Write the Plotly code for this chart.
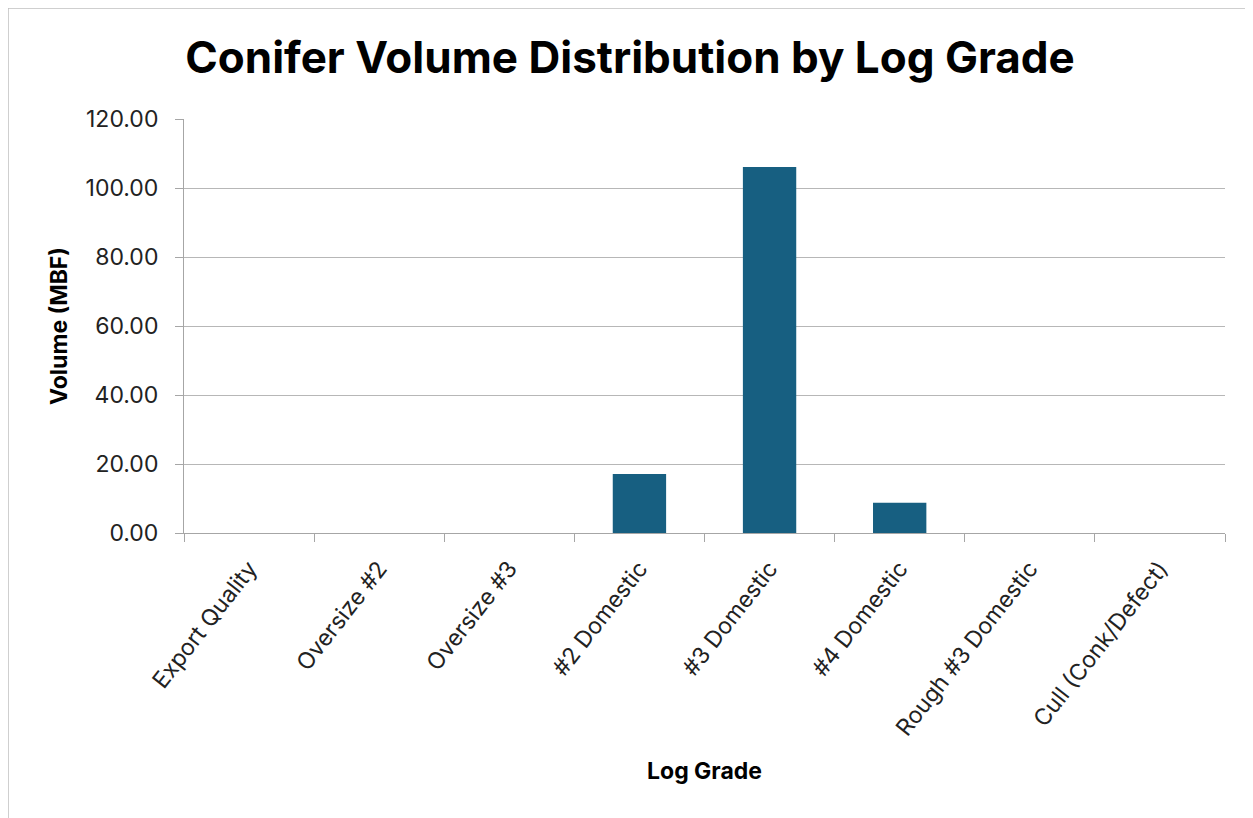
import plotly.graph_objects as go

categories = ["Export Quality", "Oversize #2", "Oversize #3", "#2 Domestic",
              "#3 Domestic", "#4 Domestic", "Rough #3 Domestic", "Cull (Conk/Defect)"]
volumes = [0, 0, 0, 17.1, 106.1, 8.8, 0, 0]
y_ticks = [0, 20, 40, 60, 80, 100, 120]

FONT = "Inter"
W, H = 1245, 810
L, R, T, B = 176, 28, 111, 285
PW, PH = W - L - R, H - T - B

fig = go.Figure()
fig.add_trace(go.Bar(
    x=categories, y=volumes,
    marker=dict(color="#175f81", line=dict(color="#dce9f2", width=0)),
))

fig.update_layout(
    width=W, height=H,
    margin=dict(l=L, r=R, t=T, b=B),
    paper_bgcolor="white", plot_bgcolor="white",
    showlegend=False,
    bargap=0.59,
    title=dict(text="<b>Conifer Volume Distribution by Log Grade</b>",
               x=(630 - 8) / W, xanchor="center", y=1 - (58 - 8) / H, yanchor="middle",
               font=dict(family=FONT, size=44, color="black")),
    font=dict(family=FONT, color="#222"),
)
fig.update_xaxes(
    type="category", tickangle=-52, tickson="boundaries",
    ticks="outside", ticklen=8, tickcolor="#a6a6a6",
    showline=True, linecolor="#a6a6a6", linewidth=1,
    ticklabelstandoff=12,
    tickfont=dict(family=FONT, size=23, color="#222"),
    title=dict(text="<b>Log Grade</b>", font=dict(family=FONT, size=23, color="black"), standoff=22),
)
fig.update_yaxes(
    range=[0, 120], tickvals=y_ticks, tickformat=".2f",
    ticks="outside", ticklen=8, tickcolor="#a6a6a6",
    showline=True, linecolor="#a6a6a6", linewidth=1,
    showgrid=True, gridcolor="#b7b7b7", gridwidth=1,
    zeroline=False,
    ticklabelstandoff=12,
    tickfont=dict(family=FONT, size=23, color="#222"),
    title=dict(text="<b>Volume (MBF)</b>", font=dict(family=FONT, size=23, color="black"), standoff=11),
)
# outer chart border (left/top visible in reference)
bx = -L / PW
by = 1 + T / PH
fig.add_shape(type="line", xref="paper", yref="paper",
              x0=bx, x1=bx, y0=by, y1=-B / PH,
              line=dict(color="#bfbfbf", width=1.5))
fig.add_shape(type="line", xref="paper", yref="paper",
              x0=bx, x1=1 + R / PW, y0=by, y1=by,
              line=dict(color="#bfbfbf", width=1.5))

fig.write_html("out.html")
